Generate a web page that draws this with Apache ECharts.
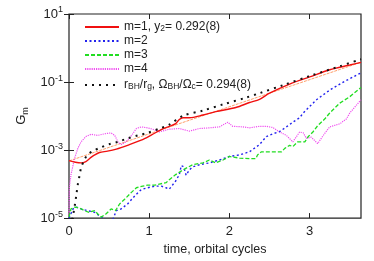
<!DOCTYPE html>
<html><head><meta charset="utf-8">
<script src="https://cdn.jsdelivr.net/npm/echarts@6/dist/echarts.min.js"></script>
<style>html,body{margin:0;padding:0;background:#fff}#c{width:374px;height:261px}</style>
</head><body><div id="c"></div>
<script>
// ---- data (time in orbital cycles, G_m) ----
const m1X = [0,0.08,0.15,0.21,0.27,0.32,0.38,0.48,0.59,0.73,0.9,1.03,1.15,1.25,1.33,1.375,1.42,1.5,1.67,1.83,2.08,2.25,2.375,2.5,2.75,3.0,3.25,3.5,3.64];
const m1Y = [4.9e-4,4.4e-4,4.2e-4,4.6e-4,6.0e-4,7.2e-4,8.5e-4,9.3e-4,1.07e-3,1.38e-3,1.95e-3,2.8e-3,4.0e-3,5.0e-3,6.0e-3,7.9e-3,8.9e-3,8.9e-3,1.07e-2,1.35e-2,1.78e-2,2.5e-2,3.1e-2,4.7e-2,8.7e-2,0.141,0.229,0.316,0.38];

const m2X = [0,0.05,0.09,0.15,0.23,0.32,0.38,0.44,0.5,0.55,0.59,0.65,0.73,0.82,0.9,0.98,1.07,1.15,1.21,1.25,1.33,1.375,1.40,1.43,1.46,1.5,1.54,1.625,1.75,1.875,2.0,2.125,2.25,2.375,2.46,2.54,2.625,2.71,2.79,2.875,2.92,3.08,3.25,3.42,3.64];
const m2Y = [1.0e-5,1.86e-5,2.1e-5,1.86e-5,1.66e-5,1.48e-5,1.17e-5,9.5e-6,8e-6,9.5e-6,1.66e-5,1.86e-5,2.6e-5,4.5e-5,6.9e-5,7.8e-5,8.7e-5,8.7e-5,7.8e-5,7.1e-5,1.23e-4,1.9e-4,3.5e-4,3.2e-4,1.82e-4,2.6e-4,3.2e-4,3.7e-4,4.2e-4,5.1e-4,6.5e-4,7.2e-4,8.9e-4,1.45e-3,2.5e-3,3.0e-3,3.5e-3,4.8e-3,6.6e-3,8.9e-3,1.23e-2,2.95e-2,5.8e-2,0.1,0.186];

const m3X = [0,0.025,0.07,0.13,0.19,0.25,0.32,0.36,0.40,0.46,0.525,0.58,0.63,0.69,0.775,0.84,0.92,0.98,1.07,1.125,1.21,1.25,1.33,1.42,1.54,1.67,1.75,1.83,1.92,2.0,2.125,2.25,2.33,2.35,2.40,2.5,2.65,2.69,2.75,2.79,2.85,2.94,2.98,3.04,3.10,3.19,3.25,3.375,3.5,3.64];
const m3Y = [1.07e-5,1.86e-5,2.1e-5,2.0e-5,1.66e-5,1.48e-5,1.66e-5,1.32e-5,1.07e-5,1.32e-5,1.86e-5,1.66e-5,2.6e-5,3.5e-5,5.6e-5,7.8e-5,8.7e-5,9.3e-5,9.3e-5,1.0e-4,1.1e-4,1.35e-4,1.9e-4,2.6e-4,3.7e-4,4.2e-4,5.1e-4,4.2e-4,5.1e-4,6.5e-4,5.8e-4,5.6e-4,5.6e-4,7.2e-4,8.9e-4,8.9e-4,8.9e-4,1.12e-3,1.38e-3,1.26e-3,1.74e-3,1.74e-3,2.45e-3,3.4e-3,5.2e-3,8.3e-3,1.23e-2,2.4e-2,3.7e-2,6.9e-2];

const m4X = [0,0.004,0.025,0.07,0.11,0.15,0.21,0.275,0.36,0.44,0.525,0.57,0.61,0.65,0.71,0.78,0.84,0.9,0.98,1.06,1.125,1.25,1.375,1.5,1.625,1.75,1.875,1.98,2.04,2.17,2.25,2.375,2.46,2.54,2.625,2.71,2.79,2.875,2.92,2.96,3.02,3.10,3.17,3.25,3.375,3.46,3.5,3.64];
const m4Y = [1.1e-5,7.9e-5,1.9e-4,5.8e-4,1.12e-3,1.74e-3,2.5e-3,2.9e-3,2.7e-3,3.0e-3,3.2e-3,2.7e-3,1.74e-3,1.45e-3,1.74e-3,2.7e-3,4.3e-3,4.8e-3,4.5e-3,4.0e-3,3.4e-3,4.1e-3,4.3e-3,3.6e-3,4.3e-3,4.5e-3,4.8e-3,6.6e-3,5.0e-3,4.8e-3,4.5e-3,5.0e-3,5.0e-3,4.6e-3,3.4e-3,2.7e-3,1.74e-3,3.4e-3,3.2e-3,2.2e-3,2.4e-3,1.55e-3,2.7e-3,4.8e-3,5.9e-3,8.3e-3,1.23e-2,3.0e-2];

const bhX = [0.04,0.05,0.075,0.09,0.11,0.13,0.15,0.19,0.23,0.30,0.40,0.50,0.61,0.73,0.86,0.98,1.13,1.25,1.42,1.67,1.92,2.21,2.375,2.67,3.0,3.375,3.64];
const bhY = [9e-6,1.17e-5,2.6e-5,4.5e-5,9.8e-5,1.7e-4,2.95e-4,5.1e-4,7.2e-4,9.5e-4,1.2e-3,1.48e-3,1.74e-3,2.2e-3,2.7e-3,3.2e-3,4.3e-3,5.6e-3,1.02e-2,1.45e-2,2.2e-2,3.5e-2,4.7e-2,8.1e-2,0.15,0.29,0.47];

const fitX = [0,3.64];
const fitY = [4.8e-4,0.38];

const xTicks = [0,1,2,3];
const yTicks = [1e-5,1e-3,1e-1,10];

const pairs = (xs, ys) => xs.map((x, i) => [x, ys[i]]);
const FONT = 'Liberation Sans';

const legendText = {
  m1: '{a|m=1, y}{s|2}{a|= 0.292(8)}',
  m2: '{a|m=2}',
  m3: '{a|m=3}',
  m4: '{a|m=4}',
  bh: '{a|r}{s|BH}{a|/r}{s|g}{a|, Ω}{s|BH}{a|/Ω}{s|c}{a|= 0.294(8)}'
};

const supLabel = v => {
  const e = Math.round(Math.log10(v));
  return '{b|10}{p|' + e + '}';
};

const chart = echarts.init(document.getElementById('c'), null, {renderer: 'canvas'});
chart.setOption({
  animation: false,
  backgroundColor: '#fff',
  textStyle: {fontFamily: FONT},
  grid: {left: 69, right: 13, top: 14, bottom: 40, show: true, borderColor: '#222', borderWidth: 1.2, backgroundColor: 'transparent'},
  legend: {
    orient: 'vertical', left: 84, top: 19, padding: 0, itemGap: 2, itemWidth: 34, itemHeight: 10,
    data: ['m1','m2','m3','m4','bh'],
    itemStyle: {opacity: 0},
    formatter: n => legendText[n],
    textStyle: {
      fontFamily: FONT, color: '#222', padding: [0,0,0,0],
      rich: {
        a: {fontSize: 12, fontFamily: FONT, color: '#222', lineHeight: 12},
        s: {fontSize: 8.5, fontFamily: FONT, color: '#222', lineHeight: 12, verticalAlign: 'bottom', padding: [5,0,0,0]}
      }
    }
  },
  xAxis: [{
    type: 'value', min: 0, max: 3.64, interval: 1,
    name: 'time, orbital cycles', nameLocation: 'middle', nameGap: 20,
    nameTextStyle: {fontFamily: FONT, fontSize: 12.5, color: '#222'},
    axisLine: {show: false},
    axisTick: {show: true, inside: true, length: 5, lineStyle: {color: '#222'}, customValues: xTicks},
    axisLabel: {fontFamily: FONT, fontSize: 13, color: '#222', margin: 7, customValues: xTicks},
    splitLine: {show: false}
  }, {
    type: 'value', min: 0, max: 3.64, interval: 1, position: 'top',
    axisLine: {show: false},
    axisTick: {show: true, inside: true, length: 5, lineStyle: {color: '#222'}, customValues: xTicks},
    axisLabel: {show: false},
    splitLine: {show: false}
  }],
  yAxis: [{
    type: 'log', logBase: 10, min: 1e-5, max: 10,
    name: '{g|G}{m|m}', nameLocation: 'middle', nameGap: 38, nameRotate: 90,
    nameTextStyle: {rich: {
      g: {fontFamily: FONT, fontSize: 13, color: '#222', lineHeight: 16},
      m: {fontFamily: FONT, fontSize: 9, color: '#222', lineHeight: 16, verticalAlign: 'bottom', padding: [6,0,0,0]}
    }},
    axisLine: {show: false},
    axisTick: {show: true, inside: true, length: 5, lineStyle: {color: '#222'}, customValues: yTicks},
    axisLabel: {formatter: supLabel, margin: 6, customValues: yTicks, rich: {
      b: {fontFamily: FONT, fontSize: 13, color: '#222'},
      p: {fontFamily: FONT, fontSize: 9, color: '#222', verticalAlign: 'top', padding: [0,0,8,0]}
    }},
    splitLine: {show: false}
  }, {
    type: 'log', logBase: 10, min: 1e-5, max: 10, position: 'right',
    axisLine: {show: false},
    axisTick: {show: true, inside: true, length: 5, lineStyle: {color: '#222'}, customValues: yTicks},
    axisLabel: {show: false},
    splitLine: {show: false}
  }],
  series: [
    {name: 'fit', type: 'line', data: pairs(fitX, fitY), symbol: 'none', z: 1,
     lineStyle: {color: '#ff9f6a', width: 1, type: [3, 1]}},
    {name: 'm1', type: 'line', data: pairs(m1X, m1Y), symbol: 'none', smooth: 0.3, z: 3,
     lineStyle: {color: '#f01010', width: 1.4}},
    {name: 'm2', type: 'line', data: pairs(m2X, m2Y), symbol: 'none', z: 3,
     lineStyle: {color: '#2222ee', width: 1.4, type: [2, 2.5]}},
    {name: 'm3', type: 'line', data: pairs(m3X, m3Y), symbol: 'none', z: 3,
     lineStyle: {color: '#22dd22', width: 1.3, type: [4, 2]}},
    {name: 'm4', type: 'line', data: pairs(m4X, m4Y), symbol: 'none', z: 2,
     lineStyle: {color: '#f050f0', width: 1.2, type: [1.2, 1]}},
    {name: 'bh', type: 'line', data: pairs(bhX, bhY), symbol: 'none', smooth: 0.3, z: 4,
     lineStyle: {color: '#111', width: 2, type: [2, 5]}}
  ]
});
</script></body></html>
